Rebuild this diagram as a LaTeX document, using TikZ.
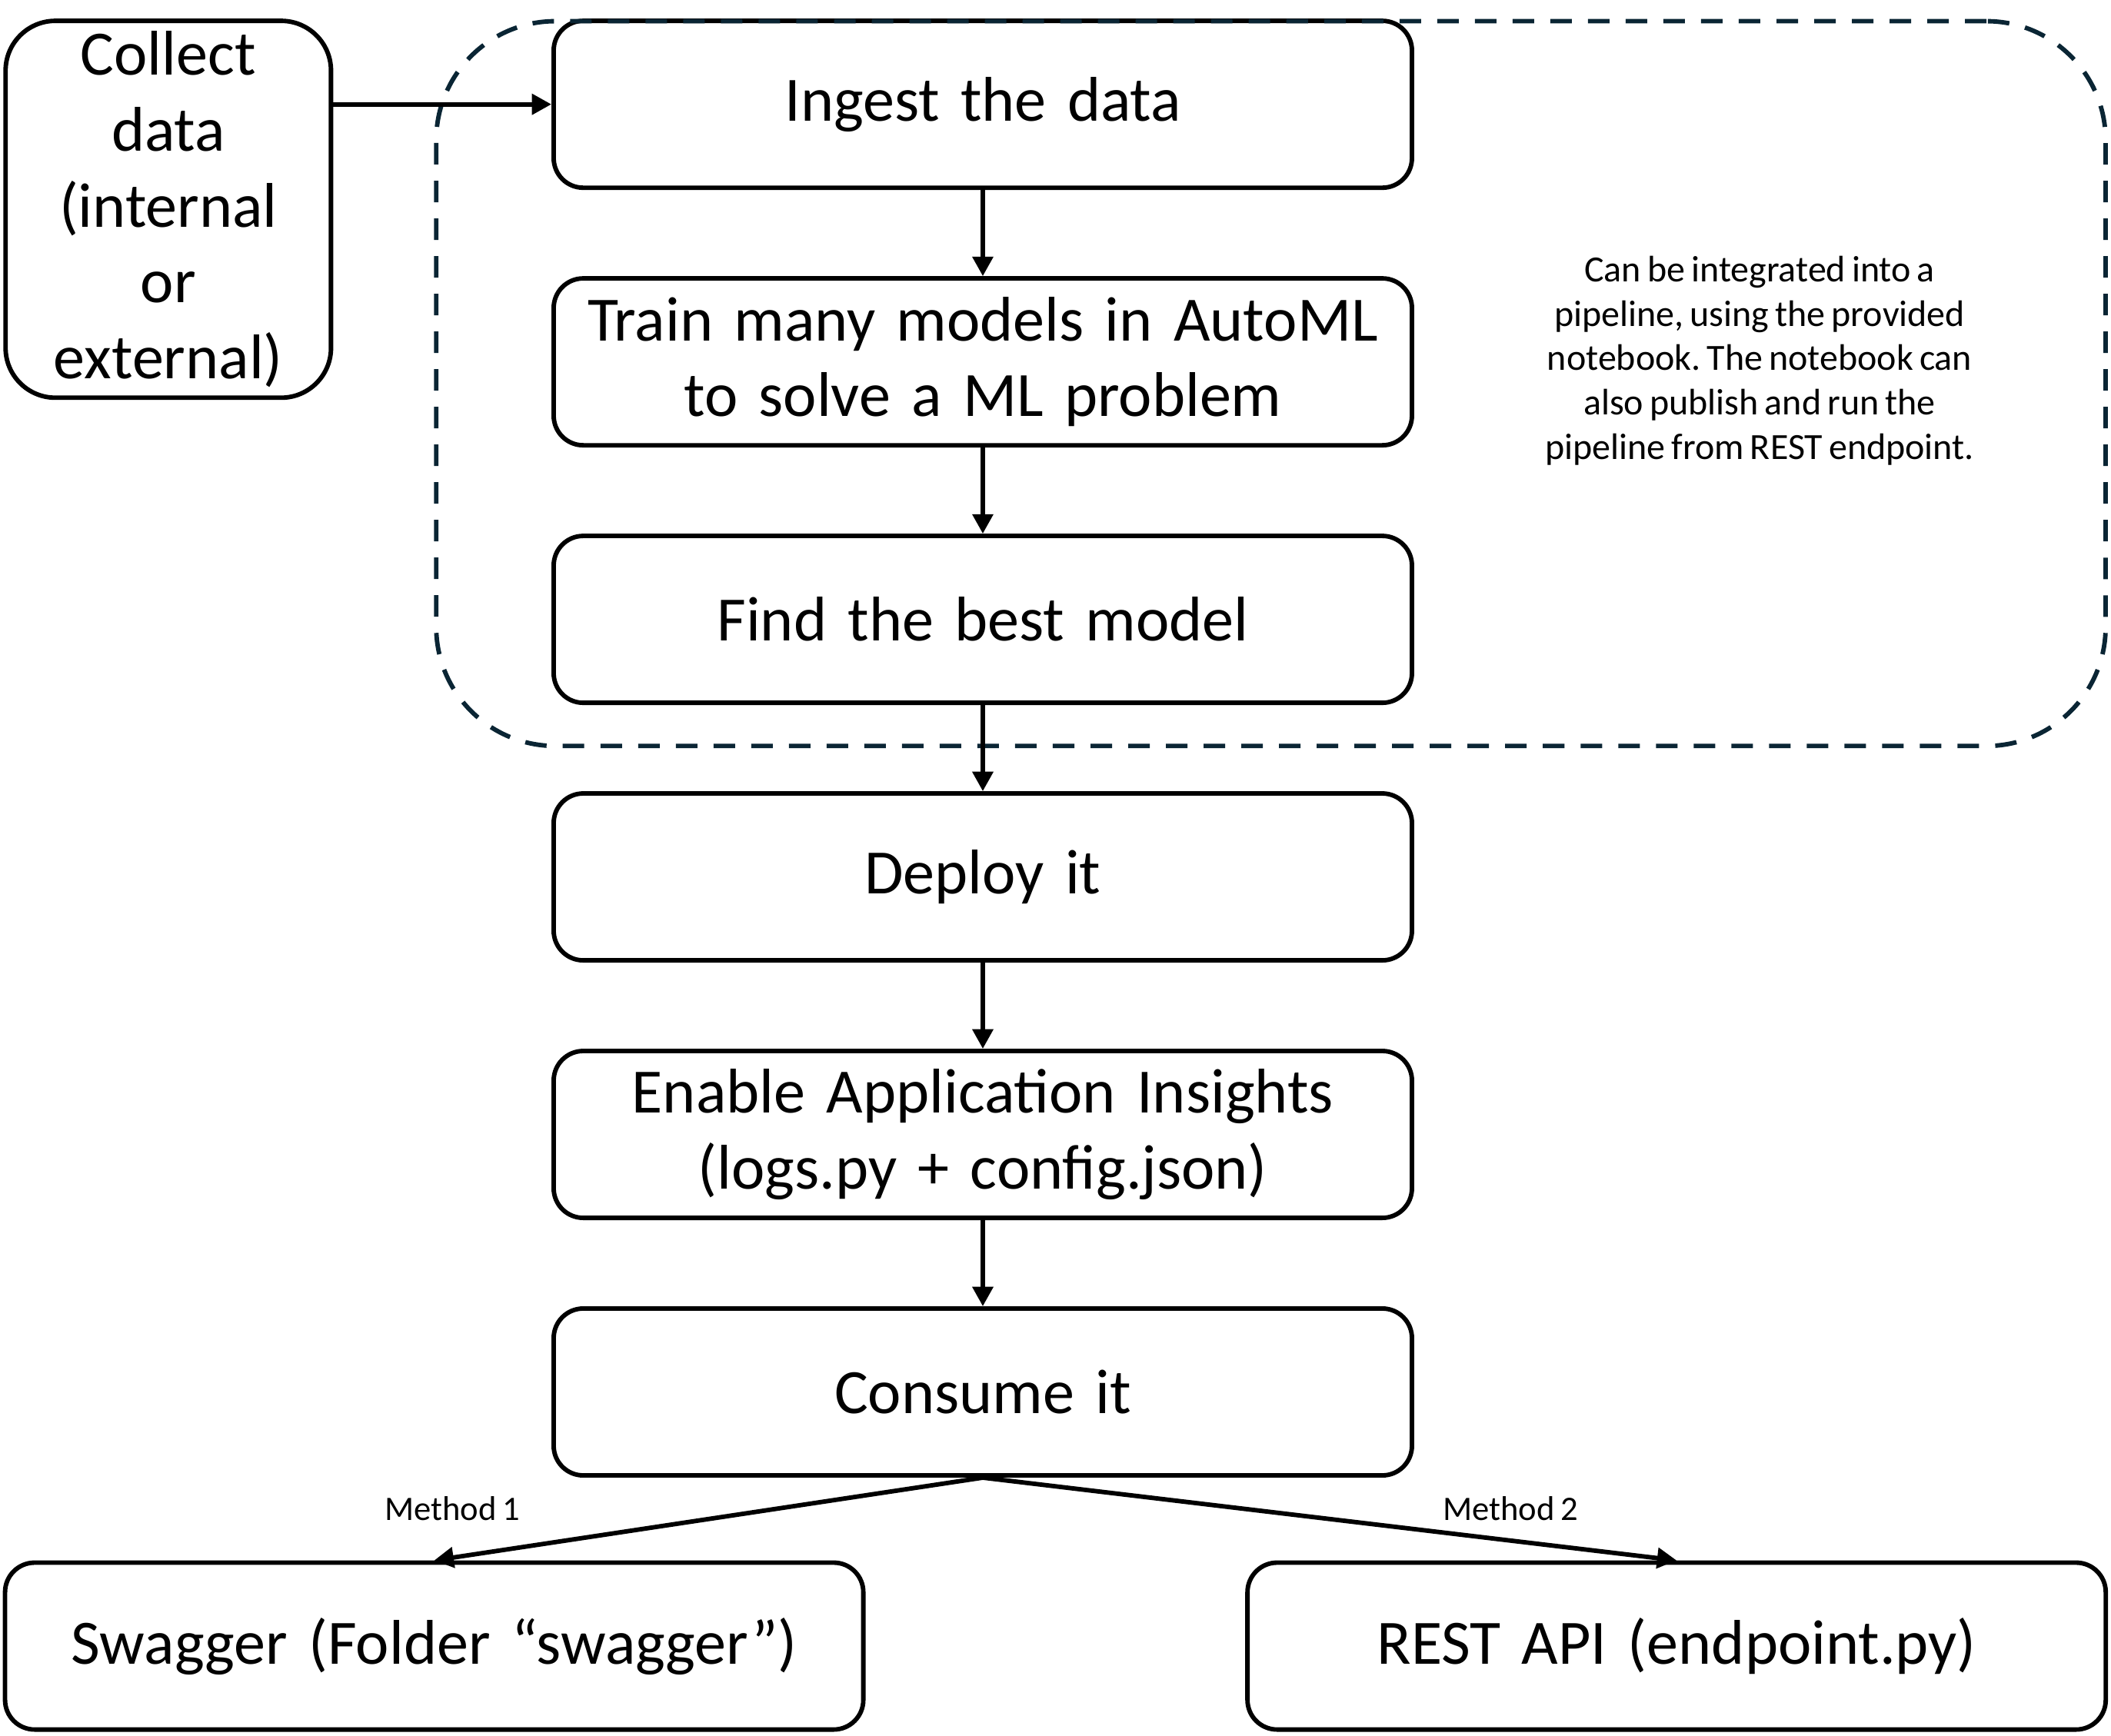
\documentclass[tikz,border=0pt]{standalone}
\usepackage{fontspec}
\setmainfont{Carlito}[WordSpace=0.75]
\usepackage{tikz}
\usetikzlibrary{shapes,arrows.meta,positioning,calc}
\definecolor{pipeblue}{RGB}{10,37,52}
\frenchspacing
\tikzset{stepbox/.style={
    draw,
    rectangle,
    rounded corners=0.44cm,
    line width=1.9pt,
    minimum width=12.75cm,
    minimum height=2.48cm,
    text width=12.2cm,
    align=center,
    font=\fontsize{26.7}{32.1}\selectfont,
  }}
\tikzset{pipe/.style={
    draw=pipeblue,
    rectangle,
    line width=1.9pt,
    dash pattern=on 0.32cm off 0.24cm,
    rounded corners=1.77cm,
  }}
\tikzset{flow/.style={line width=1.9pt,-{Triangle[length=0.29cm,width=0.3cm]}}}
\tikzset{method/.style={font=\fontsize{14.5}{17}\selectfont}}

\begin{document}
\begin{tikzpicture}[auto, node distance = 1.28cm]
        \useasboundingbox (0,0) rectangle (31.36,-25.79);

        \node (ingest) [stepbox] at (14.6,-1.55) {Ingest the data};
        \node (train) [stepbox, below=of ingest] {Train many models in AutoML\\ to solve a ML problem};
        \node (best) [stepbox, below=of train] {Find the best model};
        \node (deploy) [stepbox, below=of best] {Deploy it};
        \node (insights) [stepbox, below=of deploy] {Enable Application Insights\\ (logs.py + config.json)};
        \node (consume) [stepbox, below=of insights] {Consume it};

        \node (collect) [stepbox, rounded corners=0.74cm, minimum width=4.8cm,
        minimum height=5.6cm, text width=4.6cm] at (2.5,-3.11)
        {Collect\\ data\\ (internal\\ or\\ external)};

        \node (swagger) [stepbox] at (6.45,-24.46) {Swagger (Folder “swagger”)};
        \node (rest) [stepbox, right=5.64cm of swagger] {REST API (endpoint.py)};

        % dashed pipeline frame
        \node (pipeline) [pipe, minimum width=24.8cm, minimum height=10.77cm] at (18.88,-5.70) {};
        \node (note) [align=center, font=\fontsize{15.6}{18.8}\selectfont] at (26.14,-5.36)
        {Can be integrated into a\\ pipeline, using the provided\\ notebook. The notebook can\\ also publish and run the\\ pipeline from REST endpoint.};

        \draw [flow] (collect.east |- ingest.west) -- (ingest.west);
        \draw [flow] (ingest) -- (train);
        \draw [flow] (train) -- (best);
        \draw [flow] (best) -- (deploy);
        \draw [flow] (deploy) -- (insights);
        \draw [flow] (insights) -- (consume);

        \draw [flow] (consume.south) -- (swagger.north);
        \draw [flow] (consume.south) -- (rest.north);

        \node (m1) [method] at (6.72,-22.42) {Method 1};
        \node (m2) [method] at (22.44,-22.42) {Method 2};
\end{tikzpicture}
\end{document}
